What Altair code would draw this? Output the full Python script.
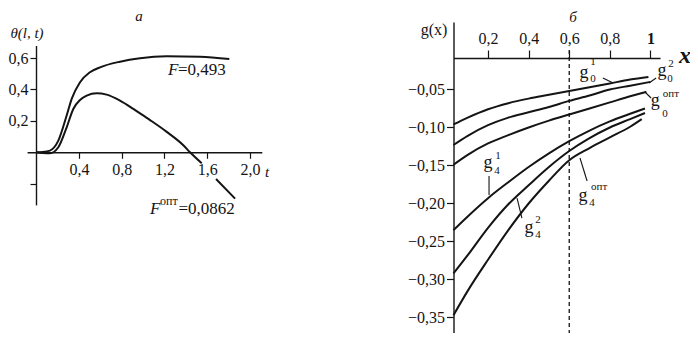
import altair as alt
import pandas as pd

# ---------------- panel "а": theta(l, t) ----------------
t_F = [0, 0.06, 0.129, 0.207, 0.285, 0.332, 0.41, 0.503, 0.597, 0.784, 0.971, 1.221, 1.532, 1.806]
theta_F = [0, 0.002, 0.011, 0.074, 0.234, 0.34, 0.446, 0.51, 0.541, 0.577, 0.599, 0.611, 0.609, 0.594]

t_Fopt_1 = [0, 0.06, 0.129, 0.207, 0.285, 0.347, 0.41, 0.472, 0.566, 0.659, 0.784, 0.909, 0.971,
            1.065, 1.221, 1.376, 1.439, 1.548]
theta_Fopt_1 = [0, -0.004, -0.006, 0.032, 0.159, 0.276, 0.333, 0.361, 0.376, 0.367, 0.329, 0.276, 0.248,
                0.205, 0.13, 0.045, 0.0, -0.07]
t_Fopt_2 = [1.682, 1.86]
theta_Fopt_2 = [-0.17, -0.295]

left_x_ticks = [0.4, 0.8, 1.2, 1.6, 2.0]
left_y_ticks = [-0.2, 0.2, 0.4, 0.6]

# ---------------- panel "б": g(x) ----------------
x_g01 = [0.03, 0.1, 0.2, 0.3, 0.4, 0.5, 0.6, 0.7, 0.8, 0.9, 0.99]
g01 = [-0.096, -0.087, -0.076, -0.068, -0.062, -0.057, -0.052, -0.047, -0.042, -0.037, -0.0335]
x_g02 = [0.03, 0.1, 0.2, 0.3, 0.4, 0.5, 0.6, 0.7, 0.8, 0.9, 1.0]
g02 = [-0.123, -0.111, -0.097, -0.087, -0.080, -0.073, -0.065, -0.058, -0.050, -0.045, -0.040]
x_g0opt = [0.03, 0.1, 0.2, 0.3, 0.4, 0.5, 0.6, 0.7, 0.8, 0.9, 0.98]
g0opt = [-0.149, -0.136, -0.121, -0.110, -0.100, -0.091, -0.083, -0.075, -0.067, -0.059, -0.053]
x_g41 = [0.03, 0.1, 0.2, 0.3, 0.4, 0.5, 0.6, 0.7, 0.8, 0.9, 0.973]
g41 = [-0.235, -0.217, -0.193, -0.172, -0.152, -0.134, -0.118, -0.104, -0.092, -0.082, -0.075]
x_g42 = [0.03, 0.1, 0.2, 0.3, 0.4, 0.5, 0.6, 0.7, 0.8, 0.9, 0.973]
g42 = [-0.292, -0.268, -0.232, -0.201, -0.176, -0.152, -0.131, -0.114, -0.100, -0.089, -0.081]
x_g4opt = [0.03, 0.1, 0.2, 0.3, 0.4, 0.5, 0.6, 0.7, 0.8, 0.9, 0.957]
g4opt = [-0.347, -0.315, -0.274, -0.235, -0.200, -0.170, -0.143, -0.127, -0.113, -0.099, -0.089]

right_x_ticks = [0.2, 0.4, 0.6, 0.8, 1.0]
right_y_ticks = [-0.05, -0.10, -0.15, -0.20, -0.25, -0.30, -0.35]
x_dashed = 0.6

# ---------------- annotations (data coordinates) ----------------
left_italic_text = ["а", "θ(l, t)", "t"]
left_italic_x = [0.962, -0.086, 2.16]
left_italic_y = [0.866, 0.76, -0.126]

left_F_text = ["F", "F"]
left_F_x = [1.233, 1.064]
left_F_y = [0.524, -0.361]
left_val_text = ["=0,493", "=0,0862"]
left_val_x = [1.326, 1.33]
left_val_y = [0.524, -0.361]
left_sup_text = ["опт"]
left_sup_x = [1.158]
left_sup_y = [-0.31]

right_g_x = [0.673, 1.057, 1.023, 0.200, 0.402, 0.668]
right_g_y = [-0.0283, -0.0257, -0.0651, -0.1467, -0.2322, -0.1901]
right_small_text = ["1", "0", "2", "0", "опт", "0", "1", "4", "2", "4", "опт", "4"]
right_small_x = [0.717, 0.717, 1.101, 1.096, 1.101, 1.072, 0.249, 0.244, 0.446, 0.446, 0.747, 0.712]
right_small_y = [-0.0138, -0.0362, -0.0164, -0.0362, -0.0559, -0.0822, -0.1375, -0.1572,
                 -0.2217, -0.2414, -0.1783, -0.1993]
leader_x1 = [0.766, 0.993, 0.973, 0.205, 0.343, 0.653]
leader_x2 = [0.816, 1.028, 1.003, 0.205, 0.367, 0.688]
leader_y1 = [-0.0349, -0.0414, -0.0533, -0.1638, -0.1928, -0.1401]
leader_y2 = [-0.0414, -0.0349, -0.0612, -0.1888, -0.2191, -0.1704]

# ---------------- layout ----------------
W, H = 682, 325
FONT = "Liberation Serif"
INK = "#141414"

lxs = alt.Scale(domain=[-0.085, 2.11], range=[19.1, 253.8], nice=False, zero=False)
lys = alt.Scale(domain=[-0.335, 0.68], range=[196.9, 37.5], nice=False, zero=False)
rxs = alt.Scale(domain=[0.03, 1.047], range=[445.5, 652], nice=False, zero=False)
rys = alt.Scale(domain=[-0.3704, 0.0388], range=[325, 14], nice=False, zero=False)

common_axis = dict(grid=False, title=None, domainColor=INK, tickColor=INK, labelColor=INK,
                   labelFont=FONT, labelFontSize=16, domainWidth=1.4, tickWidth=1.2,
                   labelFlush=False, labelOverlap=False)

lx_axis = alt.Axis(orient="bottom", offset=144.3 - H, values=left_x_ticks, tickSize=6, labelPadding=3,
                   labelExpr="replace(format(datum.value, '.1f'), '.', ',')", **common_axis)
ly_axis = alt.Axis(orient="left", offset=-28, values=left_y_ticks, tickSize=6, labelPadding=2,
                   labelExpr="datum.value < 0 ? '' : replace(format(datum.value, '.1f'), '.', ',')",
                   **common_axis)
rx_axis = alt.Axis(orient="top", offset=-50, values=right_x_ticks, tickSize=8, labelPadding=4,
                   labelExpr="datum.value == 1 ? '1' : replace(format(datum.value, '.1f'), '.', ',')",
                   labelFontWeight={"condition": {"test": "datum.value == 1", "value": "bold"},
                                    "value": "normal"},
                   **common_axis)
ry_axis = alt.Axis(orient="left", offset=-445.5, values=right_y_ticks, tickSize=7, labelPadding=2,
                   labelExpr="replace(format(datum.value, '.2f'), '.', ',')", **common_axis)


def series(xs, ys, name, seg=0):
    return pd.DataFrame({"x": xs, "y": ys, "s": name, "seg": f"{name}{seg}"})


left_df = pd.concat([
    series(t_F, theta_F, "F"),
    series(t_Fopt_1, theta_Fopt_1, "Fopt", 1),
    series(t_Fopt_2, theta_Fopt_2, "Fopt", 2),
])
right_df = pd.concat([
    series(x_g01, g01, "g01"), series(x_g02, g02, "g02"), series(x_g0opt, g0opt, "g0opt"),
    series(x_g41, g41, "g41"), series(x_g42, g42, "g42"), series(x_g4opt, g4opt, "g4opt"),
])


def enc_xy(xscale, yscale, xaxis, yaxis):
    return dict(x=alt.X("x:Q", scale=xscale, axis=xaxis), y=alt.Y("y:Q", scale=yscale, axis=yaxis))


def txt(xs_, ys_, texts, axes, **kw):
    df = pd.DataFrame({"x": xs_, "y": ys_, "text": texts})
    return alt.Chart(df).mark_text(font=FONT, color=INK, baseline="middle", **kw).encode(
        text="text:N", **enc_xy(*axes)
    )


LA = (lxs, lys, lx_axis, ly_axis)
RA = (rxs, rys, rx_axis, ry_axis)

left_lines = alt.Chart(left_df).mark_line(color=INK, strokeWidth=2, interpolate="monotone").encode(
    detail="seg:N", **enc_xy(*LA)
)
left = alt.layer(
    left_lines,
    txt(left_italic_x, left_italic_y, left_italic_text, LA, fontSize=15, fontStyle="italic", align="center"),
    txt(left_F_x, left_F_y, left_F_text, LA, fontSize=17, fontStyle="italic", align="left"),
    txt(left_val_x, left_val_y, left_val_text, LA, fontSize=17, align="left"),
    txt(left_sup_x, left_sup_y, left_sup_text, LA, fontSize=12, align="left"),
)

right_lines = alt.Chart(right_df).mark_line(color=INK, strokeWidth=2, interpolate="monotone").encode(
    detail="seg:N", **enc_xy(*RA)
)
dashed_df = pd.DataFrame({"x": [x_dashed], "y": [0.002], "y2": [-0.3704]})
dashed = alt.Chart(dashed_df).mark_rule(color=INK, strokeWidth=1.3, strokeDash=[4, 3]).encode(
    y2="y2:Q", **enc_xy(*RA)
)
leader_df = pd.DataFrame({"x": leader_x1, "x2": leader_x2, "y": leader_y1, "y2": leader_y2})
leaders = alt.Chart(leader_df).mark_rule(color=INK, strokeWidth=1.1).encode(
    x2="x2:Q", y2="y2:Q", **enc_xy(*RA)
)
right = alt.layer(
    right_lines,
    dashed,
    leaders,
    txt([0.6187], [0.0455], ["б"], RA, fontSize=15, fontStyle="italic", align="center"),
    txt([-0.066], [0.028], ["g(x)"], RA, fontSize=16, align="center"),
    txt([1.17], [-0.0059], ["x"], RA, fontSize=24, fontStyle="italic", fontWeight="bold", align="center"),
    txt(right_g_x, right_g_y, ["g"] * len(right_g_x), RA, fontSize=18, align="center"),
    txt(right_small_x, right_small_y, right_small_text, RA, fontSize=11, align="center"),
)

chart = alt.layer(left, right).resolve_scale(x="independent", y="independent").properties(
    width=W, height=H, padding=0, background="white",
    autosize=alt.AutoSizeParams(type="none"),
).configure_view(stroke=None, strokeWidth=0)

chart.save("out.html", embed_options={"renderer": "svg", "actions": False})
